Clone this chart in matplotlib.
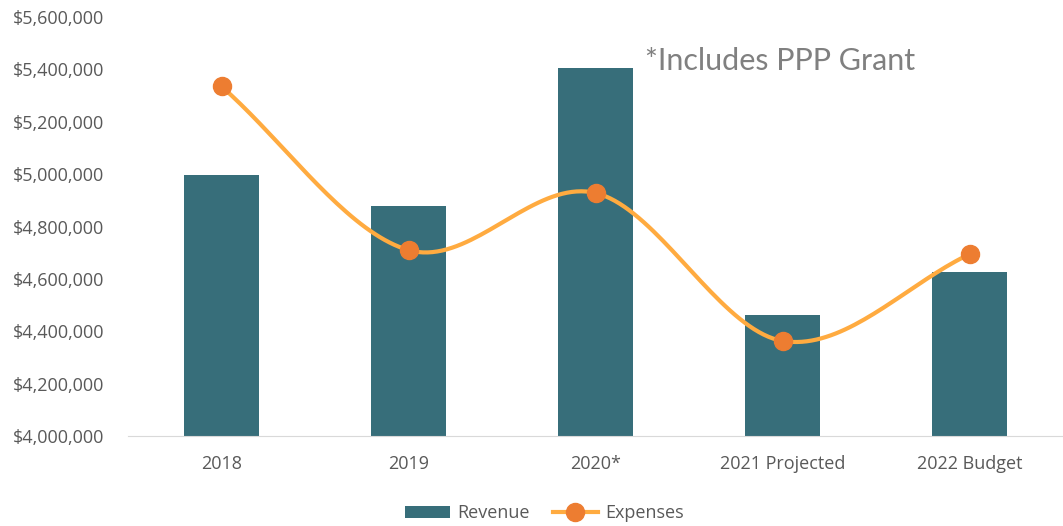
import matplotlib.pyplot as plt
import numpy as np
from matplotlib.ticker import FuncFormatter

categories = ['2018', '2019', '2020*', '2021 Projected', '2022 Budget']
revenue = [4997000, 4878000, 5405000, 4462000, 4626000]
expenses = [5335000, 4710000, 4928000, 4363000, 4695000]

bar_color = '#376E7A'
line_color = '#FFAB40'
marker_color = '#ED7D31'
text_color = '#595959'

plt.rcParams['font.family'] = ['Open Sans', 'DejaVu Sans']


def catmull_rom(xs, ys, n=40):
    # smooth curve through the points, like Excel's "smoothed line"
    px = np.concatenate([[2 * xs[0] - xs[1]], xs, [2 * xs[-1] - xs[-2]]])
    py = np.concatenate([[2 * ys[0] - ys[1]], ys, [2 * ys[-1] - ys[-2]]])
    out_x, out_y = [], []
    for i in range(1, len(px) - 2):
        t = np.linspace(0, 1, n)
        for p, out in ((px, out_x), (py, out_y)):
            p0, p1, p2, p3 = p[i - 1], p[i], p[i + 1], p[i + 2]
            c = 0.5 * ((2 * p1) + (-p0 + p2) * t + (2 * p0 - 5 * p1 + 4 * p2 - p3) * t ** 2
                       + (-p0 + 3 * p1 - 3 * p2 + p3) * t ** 3)
            out.extend(c)
    return np.array(out_x), np.array(out_y)


fig = plt.figure(figsize=(10.63, 5.26), dpi=100)
ax = fig.add_axes([0.1204, 0.171, 0.88, 0.7966])

x = np.arange(len(categories))
bars = ax.bar(x, revenue, width=0.4, color=bar_color, label='Revenue', zorder=2)

sx, sy = catmull_rom(x.astype(float), np.array(expenses, dtype=float))
ax.plot(sx, sy, color=line_color, lw=3, zorder=3)
ax.plot(x, expenses, 'o', color=marker_color, ms=13, zorder=4)
# legend proxy
exp_handle, = ax.plot([], [], color=line_color, lw=3, marker='o', mfc=marker_color,
                      mec=marker_color, ms=13, label='Expenses')

ax.set_xlim(-0.5, len(categories) - 0.5)
ax.set_ylim(4000000, 5600000)
ax.set_yticks(np.arange(4000000, 5600001, 200000))
ax.yaxis.set_major_formatter(FuncFormatter(lambda v, p: '${:,.0f}'.format(v)))
ax.set_xticks(x)
ax.set_xticklabels(categories)

for s in ['top', 'right', 'left']:
    ax.spines[s].set_visible(False)
ax.spines['bottom'].set_color('#D9D9D9')
ax.tick_params(axis='both', length=0, colors=text_color, labelsize=13)
ax.tick_params(axis='x', pad=14)
ax.tick_params(axis='y', pad=17)

ax.text(0.553, 0.873, '*Includes PPP Grant', transform=ax.transAxes, fontsize=22,
        color='#808080', va='baseline', family=['Lato', 'DejaVu Sans'])

fig.legend(handles=[bars, exp_handle], labels=['Revenue', 'Expenses'], loc='lower center',
           bbox_to_anchor=(0.512, -0.024), ncol=2, frameon=False,
           fontsize=13, labelcolor=text_color, handlelength=2.5, handletextpad=0.4,
           columnspacing=1.3)

fig.savefig('out.png', dpi=100)
